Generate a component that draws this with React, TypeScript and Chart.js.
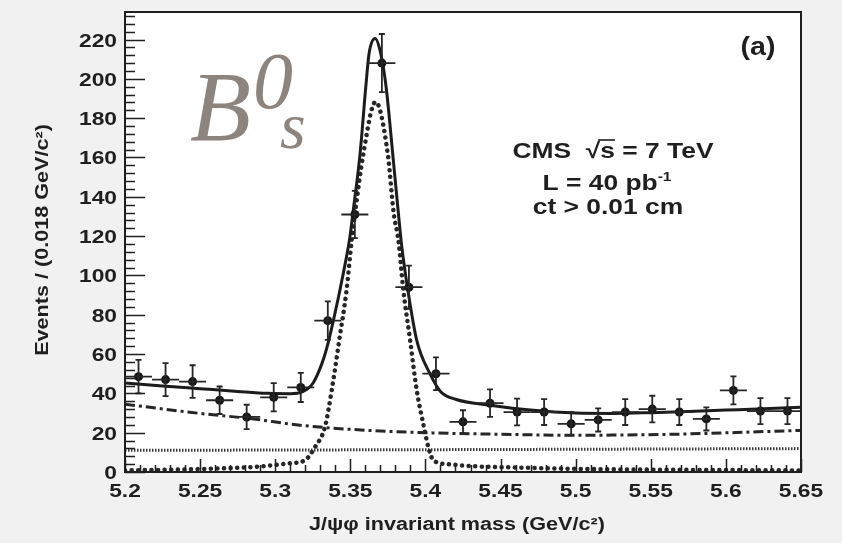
import React, { useEffect, useRef } from "react";
import { Chart, registerables } from "chart.js";

Chart.register(...registerables);

// ---------- data ----------
const binCenters = [5.209, 5.227, 5.245, 5.263, 5.281, 5.299, 5.317, 5.335, 5.353, 5.371, 5.389, 5.407, 5.425, 5.443, 5.461, 5.479, 5.497, 5.515, 5.533, 5.551, 5.569, 5.587, 5.605, 5.623, 5.641];
const events = [48.5, 47, 46, 36.5, 28, 38, 43, 77, 131, 208, 94, 50, 25.5, 35, 30.5, 30.5, 24.5, 26.5, 30.5, 32, 30.5, 27, 41.5, 31, 31];
const errors = [8.5, 8.4, 8.3, 7, 6.2, 7.2, 7.4, 9.8, 12, 14.8, 11, 8.3, 5.9, 7, 6.8, 6.6, 5.9, 5.9, 6.6, 6.8, 6.6, 5.9, 7.1, 6.6, 6.6];
const binHalfWidth = 0.009;

const fitMass = [5.2, 5.225, 5.25, 5.275, 5.295, 5.31, 5.318, 5.325, 5.331, 5.3343, 5.3387, 5.3453, 5.3498, 5.3516, 5.3565, 5.3603, 5.3625, 5.3665, 5.3702, 5.3738, 5.3782, 5.382, 5.3842, 5.388, 5.3942, 5.403, 5.41, 5.42, 5.443, 5.47, 5.5, 5.525, 5.55, 5.575, 5.6, 5.625, 5.65];
const fitValues = [45.3, 43.8, 42.4, 41, 40, 39.8, 40.7, 45, 55, 63, 77, 101, 120, 131, 162, 196, 213, 220.5, 213, 196, 162, 131.5, 115, 94, 67, 50, 41, 37, 34, 31.5, 30, 29.8, 30.2, 30.8, 31.5, 32.2, 33];

const signalMass = [5.2, 5.25, 5.29, 5.31, 5.3198, 5.3265, 5.3331, 5.3376, 5.3426, 5.3475, 5.3509, 5.3531, 5.3587, 5.3668, 5.3749, 5.3789, 5.382, 5.3853, 5.3898, 5.3942, 5.399, 5.4019, 5.4052, 5.415, 5.43, 5.46, 5.5, 5.55, 5.6, 5.65];
const signalValues = [0.8, 1.5, 2.8, 4.5, 6, 12.7, 22.9, 41.6, 67, 92.5, 117.9, 131.5, 162, 188.3, 162, 131.5, 117.9, 92.5, 67, 41.6, 22.9, 12.7, 6, 4, 3, 2.3, 1.6, 1.2, 1, 0.8];

const combMass = [5.2, 5.25, 5.283, 5.3165, 5.361, 5.405, 5.45, 5.498, 5.565, 5.6314, 5.65];
const combValues = [34.5, 29.8, 27.2, 23.8, 21.2, 19.9, 19.2, 18.7, 19.2, 20.7, 21.2];

const flatMass = [5.2, 5.425, 5.65];
const flatValues = [11, 11.4, 11.9];

const xTicks = [5.2, 5.25, 5.3, 5.35, 5.4, 5.45, 5.5, 5.55, 5.6, 5.65];
const xTickLabels = ["5.2", "5.25", "5.3", "5.35", "5.4", "5.45", "5.5", "5.55", "5.6", "5.65"];
const yTicks = [0, 20, 40, 60, 80, 100, 120, 140, 160, 180, 200, 220];
const yTickLabels = ["0", "20", "40", "60", "80", "100", "120", "140", "160", "180", "200", "220"];

const xTitle = "J/ψφ invariant mass (GeV/c²)";
const yTitle = "Events / (0.018 GeV/c²)";
const panelLabel = "(a)";

const SANS = '"Liberation Sans", Arial, Helvetica, sans-serif';
const SERIF = '"Liberation Serif", "Times New Roman", serif';
const STRETCH = 1.2;

type Run = { t: string; font: string; dy?: number; overline?: boolean };

function drawRuns(ctx: CanvasRenderingContext2D, runs: Run[], x: number, baseline: number, align: "left" | "center" | "right", sx: number, color: string) {
  ctx.save();
  ctx.fillStyle = color;
  ctx.strokeStyle = color;
  ctx.textBaseline = "alphabetic";
  ctx.textAlign = "left";
  const widths = runs.map((r) => {
    ctx.font = r.font;
    return ctx.measureText(r.t).width * sx;
  });
  const total = widths.reduce((a, b) => a + b, 0);
  let cx = align === "center" ? x - total / 2 : align === "right" ? x - total : x;
  runs.forEach((r, i) => {
    ctx.font = r.font;
    ctx.save();
    ctx.translate(cx, baseline + (r.dy || 0));
    ctx.scale(sx, 1);
    ctx.fillText(r.t, 0, 0);
    ctx.restore();
    if (r.overline) {
      ctx.lineWidth = 1.6;
      ctx.beginPath();
      ctx.moveTo(cx - 2, baseline - 18);
      ctx.lineTo(cx + widths[i], baseline - 18);
      ctx.stroke();
    }
    cx += widths[i];
  });
  ctx.restore();
}

const decorPlugin = {
  id: "decor",
  beforeDraw(chart: any) {
    const { ctx, chartArea: a, width, height } = chart;
    ctx.save();
    ctx.fillStyle = "#f1f1f1";
    ctx.fillRect(0, 0, width, height);
    ctx.fillStyle = "#ffffff";
    ctx.fillRect(a.left, a.top, a.right - a.left, a.bottom - a.top);
    ctx.restore();
  },
  afterDatasetsDraw(chart: any) {
    const { ctx } = chart;
    const xs = chart.scales.x;
    const ys = chart.scales.y;
    ctx.save();
    ctx.strokeStyle = "#262626";
    ctx.lineWidth = 1.8;
    binCenters.forEach((m, i) => {
      const px = xs.getPixelForValue(m);
      const py = ys.getPixelForValue(events[i]);
      const pl = xs.getPixelForValue(m - binHalfWidth);
      const pr = xs.getPixelForValue(m + binHalfWidth);
      const pt = ys.getPixelForValue(events[i] + errors[i]);
      const pb = ys.getPixelForValue(events[i] - errors[i]);
      ctx.beginPath();
      ctx.moveTo(pl, py);
      ctx.lineTo(pr, py);
      ctx.moveTo(px, pt);
      ctx.lineTo(px, pb);
      ctx.moveTo(px - 3, pt);
      ctx.lineTo(px + 3, pt);
      ctx.moveTo(px - 3, pb);
      ctx.lineTo(px + 3, pb);
      ctx.stroke();
    });
    ctx.restore();
  },
  afterDraw(chart: any) {
    const { ctx, chartArea: a } = chart;
    const xs = chart.scales.x;
    const ys = chart.scales.y;
    const dark = "#1f1f1f";
    ctx.save();
    // frame
    ctx.strokeStyle = dark;
    ctx.lineWidth = 2;
    ctx.strokeRect(a.left, a.top, a.right - a.left, a.bottom - a.top);
    // y ticks (inward)
    ctx.lineWidth = 1.5;
    ctx.beginPath();
    for (let v = 0; v <= ys.max; v += 4) {
      const py = Math.round(ys.getPixelForValue(v)) + 0.5;
      const major = yTicks.includes(v);
      ctx.moveTo(a.left, py);
      ctx.lineTo(a.left + (major ? 20 : 10), py);
    }
    // x ticks (inward)
    for (let k = 0; k <= 45; k++) {
      const v = 5.2 + k * 0.01;
      const px = Math.round(xs.getPixelForValue(v)) + 0.5;
      const major = k % 5 === 0;
      ctx.moveTo(px, a.bottom);
      ctx.lineTo(px, a.bottom - (major ? 13 : 7));
    }
    ctx.stroke();
    // tick labels
    const tickFont = `bold 19px ${SANS}`;
    ys.ticks.forEach((t: any, i: number) => {
      const py = ys.getPixelForValue(t.value);
      drawRuns(ctx, [{ t: yTickLabels[i], font: tickFont }], a.left - 8, py + 7, "right", STRETCH, dark);
    });
    xs.ticks.forEach((t: any, i: number) => {
      const px = xs.getPixelForValue(t.value);
      drawRuns(ctx, [{ t: xTickLabels[i], font: tickFont }], px, a.bottom + 25, "center", STRETCH, dark);
    });
    // axis titles
    const titleFont = `bold 18px ${SANS}`;
    drawRuns(ctx, [{ t: xTitle, font: titleFont }], 457, 530, "center", STRETCH, dark);
    ctx.save();
    ctx.translate(48, 240);
    ctx.rotate(-Math.PI / 2);
    drawRuns(ctx, [{ t: yTitle, font: titleFont }], 0, 0, "center", STRETCH, dark);
    ctx.restore();
    // panel label
    drawRuns(ctx, [{ t: panelLabel, font: `bold 26px ${SANS}` }], 758, 55, "center", 1.1, dark);
    // CMS text
    const f22 = `bold 22px ${SANS}`;
    drawRuns(ctx, [{ t: "CMS  √", font: f22 }, { t: "s", font: f22, overline: true }, { t: " = 7 TeV", font: f22 }], 613, 158, "center", STRETCH, dark);
    drawRuns(ctx, [{ t: "L = 40 pb", font: f22 }, { t: "-1", font: `bold 13px ${SANS}`, dy: -9 }], 607, 190, "center", STRETCH, dark);
    drawRuns(ctx, [{ t: "ct > 0.01 cm", font: f22 }], 608, 214, "center", STRETCH, dark);
    // B0s label
    const gray = "#8e847e";
    drawRuns(ctx, [{ t: "B", font: `italic 100px ${SERIF}` }], 190, 140, "left", 1, gray);
    drawRuns(ctx, [{ t: "0", font: `italic 80px ${SERIF}` }], 253, 108, "left", 1, gray);
    drawRuns(ctx, [{ t: "s", font: `italic 66px ${SERIF}` }], 280, 148, "left", 1, gray);
    ctx.restore();
  },
};

const pts = (xs: number[], ys: number[]) => xs.map((x, i) => ({ x, y: ys[i] }));

export default function App() {
  const ref = useRef<HTMLCanvasElement>(null);
  useEffect(() => {
    const chart = new Chart(ref.current as HTMLCanvasElement, {
      type: "line",
      data: {
        datasets: [
          {
            label: "data",
            data: pts(binCenters, events),
            showLine: false,
            pointRadius: 4.5,
            pointBackgroundColor: "#151515",
            pointBorderWidth: 0,
            order: 0,
          } as any,
          {
            label: "fit",
            data: pts(fitMass, fitValues),
            borderColor: "#1c1c1c",
            borderWidth: 3,
            pointRadius: 0,
            cubicInterpolationMode: "monotone",
            fill: false,
            order: 1,
          },
          {
            label: "signal",
            data: pts(signalMass, signalValues),
            borderColor: "#262626",
            borderWidth: 4.5,
            borderDash: [0.1, 6.5],
            borderCapStyle: "round",
            pointRadius: 0,
            cubicInterpolationMode: "monotone",
            fill: false,
            order: 2,
          },
          {
            label: "combinatorial",
            data: pts(combMass, combValues),
            borderColor: "#262626",
            borderWidth: 3,
            borderDash: [10, 4, 3, 4],
            pointRadius: 0,
            cubicInterpolationMode: "monotone",
            fill: false,
            order: 3,
          },
          {
            label: "flat",
            data: pts(flatMass, flatValues),
            borderColor: "#3a3a3a",
            borderWidth: 3,
            borderDash: [1.5, 1.5],
            pointRadius: 0,
            fill: false,
            order: 4,
          },
        ],
      },
      options: {
        animation: false,
        responsive: false,
        devicePixelRatio: 1,
        layout: { padding: { left: 0, right: 41, top: 12, bottom: 0 } },
        plugins: { legend: { display: false }, tooltip: { enabled: false } },
        scales: {
          x: {
            type: "linear",
            min: 5.2,
            max: 5.65,
            afterBuildTicks: (s: any) => {
              s.ticks = xTicks.map((v) => ({ value: v }));
            },
            afterFit: (s: any) => {
              s.height = 71;
            },
            ticks: { display: false },
            grid: { display: false, drawTicks: false },
            border: { display: false },
          },
          y: {
            type: "linear",
            min: 0,
            max: 234,
            afterBuildTicks: (s: any) => {
              s.ticks = yTicks.map((v) => ({ value: v }));
            },
            afterFit: (s: any) => {
              s.width = 125;
            },
            ticks: { display: false },
            grid: { display: false, drawTicks: false },
            border: { display: false },
          },
        },
      },
      plugins: [decorPlugin],
    });
    return () => chart.destroy();
  }, []);
  return (
    <div style={{ position: "fixed", left: 0, top: 0, width: 842, height: 543, background: "#f1f1f1" }}>
      <canvas ref={ref} width={842} height={543} style={{ display: "block", width: 842, height: 543 }} />
    </div>
  );
}
